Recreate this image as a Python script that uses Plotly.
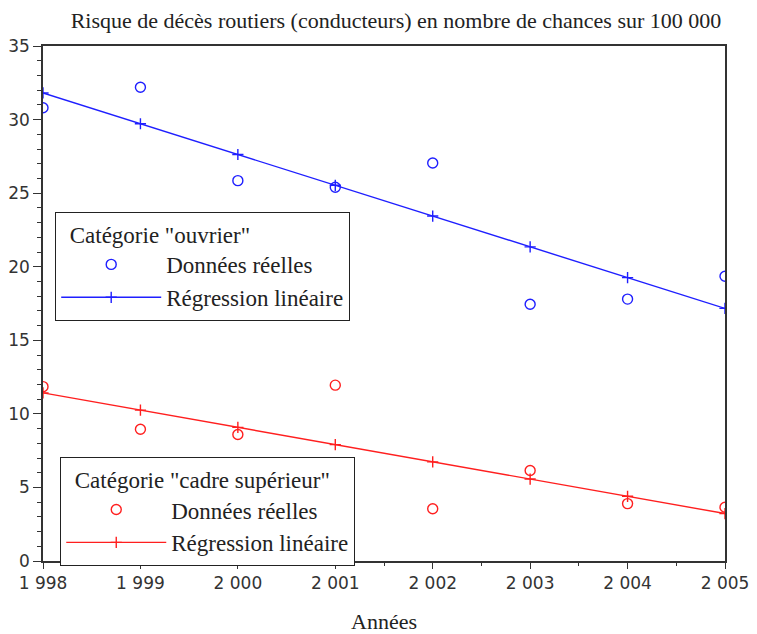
import numpy as np
import plotly.graph_objects as go

years = [1998, 1999, 2000, 2001, 2002, 2003, 2004, 2005]
ouvrier = [30.8, 32.2, 25.85, 25.4, 27.05, 17.45, 17.8, 19.35]
cadre = [11.85, 8.95, 8.6, 11.95, 3.55, 6.15, 3.9, 3.65]
x_tick_labels = ["1 998", "1 999", "2 000", "2 001", "2 002", "2 003", "2 004", "2 005"]

BLUE = "#1f1fff"
RED = "#ff1f1f"

def fit(x, y):
    a, b = np.polyfit(x, y, 1)
    return [a * xi + b for xi in x]

fig = go.Figure()
serif = "Liberation Serif, Times New Roman, serif"
sans = "DejaVu Sans, sans-serif"

circle = lambda c: dict(symbol="circle-open", size=10, color=c, line=dict(width=1.4, color=c))
plus = lambda c: dict(symbol="cross-thin-open", size=8, color=c, line=dict(width=1.4, color=c))

fig.add_trace(go.Scatter(x=years, y=ouvrier, mode="markers", name="Données réelles",
                         marker=circle(BLUE), legend="legend"))
fig.add_trace(go.Scatter(x=years, y=fit(years, ouvrier), mode="lines+markers",
                         name="Régression linéaire", line=dict(color=BLUE, width=1.4),
                         marker=plus(BLUE), legend="legend"))
fig.add_trace(go.Scatter(x=years, y=cadre, mode="markers", name="Données réelles",
                         marker=circle(RED), legend="legend2"))
fig.add_trace(go.Scatter(x=years, y=fit(years, cadre), mode="lines+markers",
                         name="Régression linéaire", line=dict(color=RED, width=1.4),
                         marker=plus(RED), legend="legend2"))

legend_common = dict(
    bgcolor="white", bordercolor="#222", borderwidth=1.2,
    font=dict(family=serif, size=23, color="#222"),
    xanchor="left", yanchor="top", itemwidth=100, tracegroupgap=0,
)
pad = "\u00a0\u00a0"

W, H = 749, 626
fig.update_layout(
    width=W, height=H,
    margin=dict(l=35, r=32, t=38, b=73, autoexpand=False),
    paper_bgcolor="white", plot_bgcolor="white",
    title=dict(text="Risque de décès routiers (conducteurs) en nombre de chances sur 100 000",
               font=dict(family=serif, size=22, color="#222"),
               x=0.5176, xref="paper", xanchor="center", y=1 - 12 / H, yanchor="middle"),
    legend=dict(**legend_common, x=0.0176, y=0.678,
                title=dict(text=pad + 'Catégorie "ouvrier"', font=dict(family=serif, size=23, color="#222"))),
    legend2=dict(**legend_common, x=0.025, y=0.202,
                 title=dict(text=pad + 'Catégorie "cadre supérieur"', font=dict(family=serif, size=23, color="#222"))),
    xaxis=dict(
        range=[1998, 2005], tickmode="array", tickvals=years, ticktext=x_tick_labels,
        ticks="outside", ticklen=6, tickwidth=1.2, tickcolor="#333",
        minor=dict(dtick=0.5, tick0=1998, ticks="outside", ticklen=3, tickcolor="#333", tickwidth=1.2),
        showline=True, linecolor="#333", linewidth=1.5, mirror=True, showgrid=False, zeroline=False,
        tickfont=dict(family=sans, size=17, color="#333"), automargin=False,
        title=dict(text="Années", font=dict(family=serif, size=22, color="#222"), standoff=31),
    ),
    yaxis=dict(
        range=[0, 35], dtick=5, tick0=0,
        ticks="outside", ticklen=8, tickwidth=1.2, tickcolor="#333",
        minor=dict(dtick=1, ticks="outside", ticklen=4, tickcolor="#333", tickwidth=1.2),
        showline=True, linecolor="#333", linewidth=1.5, mirror=True, showgrid=False, zeroline=False,
        tickfont=dict(family=sans, size=17, color="#333"), automargin=False,
    ),
)

fig.write_html("out.html")
